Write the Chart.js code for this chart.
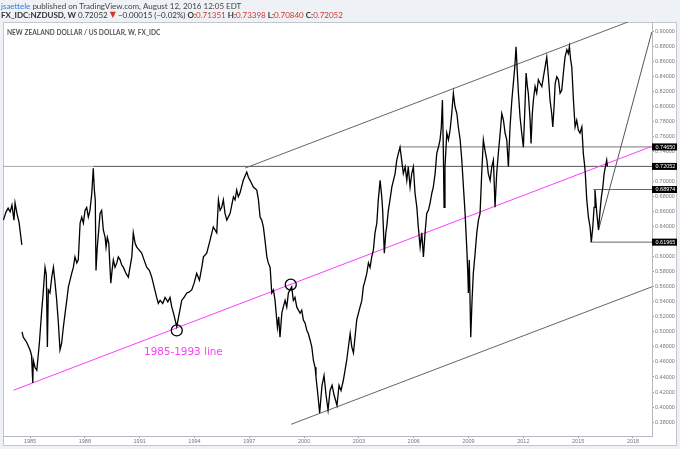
<!DOCTYPE html>
<html>
<head>
<meta charset="utf-8">
<script src="https://cdn.jsdelivr.net/npm/chart.js@4"></script>
<style>
  body { margin: 0; background: #eef1f5; }
  canvas { display: block; }
</style>
</head>
<body>
<canvas id="myChart" width="680" height="449"></canvas>
<script>
// NZDUSD weekly (decimal year, close)
const priceYears = [
  1983.54, 1983.69, 1983.80, 1983.91, 1984.01, 1984.12, 1984.18, 1984.29, 1984.40, 1984.55,
  1984.555,
  1984.56, 1984.63, 1984.82, 1985.00, 1985.08, 1985.15, 1985.18, 1985.27, 1985.37, 1985.51,
  1985.64, 1985.70, 1985.82, 1985.89, 1985.95, 1986.00, 1986.09, 1986.19, 1986.28, 1986.37,
  1986.46, 1986.55, 1986.64, 1986.73, 1986.82, 1986.92, 1987.01, 1987.10, 1987.19, 1987.28,
  1987.37, 1987.46, 1987.56, 1987.64, 1987.74, 1987.83, 1987.92, 1988.01, 1988.10, 1988.19,
  1988.28, 1988.38, 1988.46, 1988.52, 1988.57, 1988.61, 1988.68, 1988.76, 1988.83, 1988.92,
  1989.01, 1989.11, 1989.16, 1989.23, 1989.31, 1989.42, 1989.49, 1989.56, 1989.65, 1989.75,
  1989.83, 1989.93, 1990.02, 1990.11, 1990.25, 1990.38, 1990.47, 1990.57, 1990.65, 1990.75,
  1990.84, 1990.98, 1991.11, 1991.24, 1991.39, 1991.53, 1991.66, 1991.79, 1991.93, 1992.02,
  1992.12, 1992.26, 1992.39, 1992.54, 1992.66, 1992.76, 1992.84, 1993.03, 1993.17, 1993.30,
  1993.43, 1993.58, 1993.70, 1993.85, 1993.98, 1994.12, 1994.27, 1994.40, 1994.49, 1994.67,
  1994.85, 1995.03, 1995.22, 1995.31, 1995.40, 1995.49, 1995.58, 1995.67, 1995.77, 1995.95,
  1996.13, 1996.22, 1996.31, 1996.40, 1996.49, 1996.67, 1996.86, 1996.95, 1997.04, 1997.22,
  1997.41, 1997.50, 1997.59, 1997.68, 1997.77, 1997.86, 1997.96, 1998.04, 1998.14, 1998.23,
  1998.32, 1998.41, 1998.54, 1998.61, 1998.68, 1998.78, 1998.86, 1998.96, 1999.05, 1999.14,
  1999.23, 1999.32, 1999.41, 1999.50, 1999.60, 1999.78, 1999.87, 1999.96, 2000.05, 2000.15,
  2000.23, 2000.33, 2000.42, 2000.51, 2000.60, 2000.65, 2000.73, 2000.85, 2000.98, 2001.09,
  2001.20, 2001.31, 2001.42, 2001.53, 2001.64, 2001.80, 2001.91, 2002.02, 2002.15, 2002.33,
  2002.52, 2002.61, 2002.70, 2002.88, 2003.06, 2003.16, 2003.24, 2003.34, 2003.43, 2003.52,
  2003.61, 2003.70, 2003.79, 2003.88, 2003.98, 2004.06, 2004.16, 2004.25, 2004.30, 2004.39,
  2004.47, 2004.52, 2004.61, 2004.70, 2004.80, 2004.89, 2004.98, 2005.07, 2005.16, 2005.25,
  2005.34, 2005.43, 2005.53, 2005.62, 2005.70, 2005.80, 2005.89, 2005.98, 2006.07, 2006.17,
  2006.25, 2006.35, 2006.44, 2006.53, 2006.62, 2006.71, 2006.80, 2006.89, 2006.99, 2007.07,
  2007.17, 2007.26, 2007.35, 2007.44, 2007.51, 2007.57, 2007.62, 2007.66, 2007.71, 2007.81,
  2007.90, 2007.99, 2008.08, 2008.17, 2008.26, 2008.36, 2008.44, 2008.54, 2008.63, 2008.72,
  2008.81, 2008.90, 2008.96, 2008.99, 2009.04, 2009.12, 2009.19, 2009.26, 2009.36, 2009.45,
  2009.54, 2009.63, 2009.72, 2009.81, 2009.90, 2010.00, 2010.08, 2010.18, 2010.27, 2010.36,
  2010.45, 2010.54, 2010.63, 2010.73, 2010.82, 2010.91, 2011.00, 2011.09, 2011.18, 2011.27,
  2011.37, 2011.45, 2011.53, 2011.60, 2011.67, 2011.73, 2011.82, 2011.91, 2012.00, 2012.08,
  2012.15, 2012.22, 2012.27, 2012.37, 2012.42, 2012.49, 2012.55, 2012.64, 2012.73, 2012.82,
  2012.92, 2013.01, 2013.10, 2013.19, 2013.28, 2013.37, 2013.46, 2013.55, 2013.61, 2013.68,
  2013.74, 2013.83, 2013.92, 2014.01, 2014.10, 2014.19, 2014.28, 2014.38, 2014.46, 2014.52,
  2014.59, 2014.65, 2014.74, 2014.83, 2014.92, 2015.01, 2015.10, 2015.20, 2015.28, 2015.34,
  2015.39, 2015.47, 2015.56, 2015.65, 2015.72, 2015.80, 2015.87, 2015.92, 2016.02, 2016.11,
  2016.20, 2016.27, 2016.35, 2016.42, 2016.49, 2016.56, 2016.60
];
const priceValues = [
  0.649, 0.660, 0.665, 0.660, 0.669, 0.649, 0.672, 0.657, 0.646, 0.616,
  null,
  0.500, 0.493, 0.486, 0.476, 0.469, 0.432, 0.462, 0.453, 0.449, 0.485,
  0.529, 0.546, 0.586, 0.576, 0.480, 0.556, 0.552, 0.573, 0.586, 0.565,
  0.542, 0.512, 0.476, 0.485, 0.506, 0.525, 0.542, 0.560, 0.569, 0.578,
  0.586, 0.600, 0.592, 0.596, 0.645, 0.653, 0.645, 0.662, 0.666, 0.653,
  0.662, 0.685, 0.718, 0.689, 0.676, 0.582, 0.613, 0.636, 0.658, 0.662,
  0.636, 0.626, 0.613, 0.626, 0.618, 0.565, 0.582, 0.596, 0.586, 0.592,
  0.600, 0.596, 0.589, 0.586, 0.578, 0.573, 0.586, 0.600, 0.632, 0.618,
  0.613, 0.609, 0.605, 0.596, 0.586, 0.582, 0.573, 0.560, 0.546, 0.538,
  0.542, 0.538, 0.546, 0.540, 0.546, 0.533, 0.526, 0.507, 0.525, 0.542,
  0.546, 0.552, 0.553, 0.556, 0.565, 0.578, 0.569, 0.586, 0.600, 0.605,
  0.622, 0.640, 0.632, 0.676, 0.662, 0.666, 0.676, 0.658, 0.649, 0.658,
  0.680, 0.676, 0.689, 0.680, 0.685, 0.702, 0.713, 0.706, 0.702, 0.693,
  0.689, 0.676, 0.653, 0.649, 0.640, 0.622, 0.600, 0.592, 0.586, 0.552,
  0.556, 0.542, 0.506, 0.520, 0.493, 0.525, 0.533, 0.542, 0.533, 0.552,
  0.556, 0.560, 0.542, 0.546, 0.533, 0.525, 0.529, 0.516, 0.512, 0.502,
  0.498, 0.489, 0.480, 0.462, 0.453, 0.440, 0.422, 0.392, 0.429, 0.442,
  0.416, 0.396, 0.422, 0.429, 0.416, 0.402, 0.429, 0.422, 0.436, 0.462,
  0.498, 0.480, 0.472, 0.516, 0.533, 0.542, 0.560, 0.569, 0.578, 0.592,
  0.586, 0.600, 0.609, 0.632, 0.645, 0.676, 0.702, 0.680, 0.662, 0.605,
  0.632, 0.640, 0.662, 0.676, 0.693, 0.702, 0.711, 0.729, 0.738, 0.746,
  0.729, 0.711, 0.720, 0.702, 0.720, 0.693, 0.711, 0.720, 0.685, 0.666,
  0.640, 0.613, 0.632, 0.600, 0.632, 0.658, 0.662, 0.671, 0.685, 0.693,
  0.711, 0.738, 0.746, 0.756, 0.773, 0.809, 0.742, 0.666, 0.720, 0.765,
  0.756, 0.769, 0.791, 0.818, 0.800, 0.791, 0.773, 0.756, 0.729, 0.693,
  0.658, 0.613, 0.578, 0.552, 0.596, 0.493, 0.542, 0.578, 0.605, 0.632,
  0.649, 0.658, 0.711, 0.756, 0.742, 0.729, 0.711, 0.702, 0.720, 0.729,
  0.666, 0.711, 0.738, 0.765, 0.791, 0.782, 0.765, 0.756, 0.720, 0.773,
  0.809, 0.831, 0.853, 0.880, 0.845, 0.818, 0.786, 0.765, 0.746, 0.796,
  0.845, 0.827, 0.818, 0.782, 0.751, 0.791, 0.809, 0.827, 0.818, 0.836,
  0.831, 0.827, 0.840, 0.853, 0.866, 0.840, 0.809, 0.791, 0.773, 0.800,
  0.831, 0.840, 0.836, 0.818, 0.822, 0.845, 0.866, 0.876, 0.871, 0.880,
  0.862, 0.853, 0.809, 0.773, 0.782, 0.769, 0.765, 0.773, 0.738, 0.725,
  0.711, 0.676, 0.653, 0.640, 0.620, 0.640, 0.666, 0.689, 0.658, 0.636,
  0.662, 0.680, 0.693, 0.711, 0.720, 0.729, 0.7205
];

// drawn lines (start and end, in year / price)
const upperChannel = [[1996.77, 0.7183], [2017.73, 0.913]];
const lowerChannel = [[1999.29, 0.377], [2019.05, 0.5603]];
const line1985to1993 = [[1984.09, 0.4223], [2018.99, 0.7469]];
const steepLine = [[2016.11, 0.6356], [2019.03, 0.8996]];
const level7465 = [[2005.2, 0.7465], [2019.1, 0.7465]];
const level7205 = [[1988.45, 0.7205], [2019.1, 0.7205]];
const lastPriceLine = [[1983.4, 0.72052], [2019.1, 0.72052]];
const level6897 = [[2015.83, 0.68974], [2019.1, 0.68974]];
const level6197 = [[2015.65, 0.61965], [2019.1, 0.61965]];
const circledPoints = [[1993.03, 0.502], [1999.27, 0.563]];

const xTickYears = [1985, 1988, 1991, 1994, 1997, 2000, 2003, 2006, 2009, 2012, 2015, 2018];
const yTickValues = [0.38, 0.40, 0.42, 0.44, 0.46, 0.48, 0.50, 0.52, 0.54, 0.56, 0.58, 0.60, 0.62,
  0.64, 0.66, 0.68, 0.70, 0.72, 0.74, 0.76, 0.78, 0.80, 0.82, 0.84, 0.86, 0.88, 0.90];
const boxedLevels = [0.74650, 0.72052, 0.68974, 0.61965];

const toPoints = (pairs) => pairs.map((p) => ({ x: p[0], y: p[1] }));

function lineSet(pairs, color, width) {
  return {
    data: toPoints(pairs),
    borderColor: color,
    borderWidth: width,
    pointRadius: 0,
    fill: false,
    tension: 0,
  };
}

const backdrop = {
  id: "backdrop",
  beforeDraw(chart) {
    const { ctx } = chart;
    ctx.save();
    ctx.fillStyle = "#eef1f5";
    ctx.fillRect(0, 0, 680, 449);
    ctx.fillStyle = "#ffffff";
    ctx.fillRect(3, 22, 674, 424);
    ctx.strokeStyle = "#c3c6cb";
    ctx.lineWidth = 1;
    ctx.strokeRect(3.5, 22.5, 673, 423);

    // header lines
    ctx.textBaseline = "middle";
    let x = 1;
    const put = (text, font, color, y) => {
      ctx.font = font;
      ctx.fillStyle = color;
      ctx.fillText(text, x, y);
      x += ctx.measureText(text).width;
    };
    put("jsaettele", "8px Lato", "#2f7bd9", 6);
    put(" published on TradingView.com, August 12, 2016 12:05 EDT", "8px Lato", "#444", 6);
    x = 1;
    const red = "#d8352a";
    put("FX_IDC:NZDUSD, W ", "bold 8px Lato", "#333", 15);
    put("0.72052 ", "8px Lato", "#333", 15);
    put("\u25BC", "8px 'DejaVu Sans'", red, 15);
    put(" \u22120.00015 (\u22120.02%) ", "8px Lato", "#333", 15);
    put("O:", "bold 8px Lato", "#333", 15);
    put("0.71351 ", "8px Lato", red, 15);
    put("H:", "bold 8px Lato", "#333", 15);
    put("0.73398 ", "8px Lato", red, 15);
    put("L:", "bold 8px Lato", "#333", 15);
    put("0.70840 ", "8px Lato", red, 15);
    put("C:", "bold 8px Lato", "#333", 15);
    put("0.72052", "8px Lato", red, 15);
    ctx.restore();
  },
  afterDraw(chart) {
    const { ctx, scales } = chart;
    const xs = scales.x;
    const ys = scales.y;
    ctx.save();
    // title inside the pane
    ctx.font = "bold 6.6px Lato";
    ctx.fillStyle = "#555";
    ctx.textBaseline = "middle";
    ctx.fillText("NEW ZEALAND DOLLAR / US DOLLAR, W, FX_IDC", 7, 32.5);

    // circles
    ctx.strokeStyle = "#000";
    ctx.lineWidth = 1.3;
    circledPoints.forEach((p) => {
      ctx.beginPath();
      ctx.arc(xs.getPixelForValue(p[0]), ys.getPixelForValue(p[1]), 5.5, 0, Math.PI * 2);
      ctx.stroke();
    });

    // annotation text
    ctx.font = "10.4px 'DejaVu Sans'";
    ctx.fillStyle = "#ff3cff";
    ctx.fillText("1985-1993 line", xs.getPixelForValue(1991.24), ys.getPixelForValue(0.473));

    // boxed price levels on the axis
    ctx.font = "5.5px 'Liberation Sans'";
    boxedLevels.forEach((v) => {
      const y = ys.getPixelForValue(v);
      ctx.fillStyle = "#000";
      ctx.fillRect(652, y - 3.5, 25, 7);
      ctx.fillStyle = "#fff";
      ctx.fillText(v.toFixed(5), 655.5, y + 0.3);
    });
    ctx.restore();
  },
};

const ctx = document.getElementById("myChart").getContext("2d");
const myChart = new Chart(ctx, {
  type: "line",
  data: {
    datasets: [
      {
        data: priceYears.map((yr, i) => ({ x: yr, y: priceValues[i] })),
        borderColor: "#000",
        borderWidth: 1.3,
        pointRadius: 0,
        tension: 0,
        spanGaps: false,
      },
      lineSet(line1985to1993, "#ff3cff", 1),
      lineSet(upperChannel, "#666", 1),
      lineSet(lowerChannel, "#666", 1),
      lineSet(steepLine, "#555", 1),
      lineSet(level7465, "#777", 1),
      lineSet(level7205, "#666", 1),
      lineSet(lastPriceLine, "#aaa", 1),
      lineSet(level6897, "#666", 1),
      lineSet(level6197, "#666", 1),
    ],
  },
  options: {
    responsive: false,
    animation: false,
    devicePixelRatio: 1,
    layout: { padding: { top: 22, left: 3, right: 0, bottom: 0 } },
    plugins: { legend: { display: false }, tooltip: { enabled: false } },
    scales: {
      x: {
        type: "linear",
        min: 1983.52,
        max: 2019.04,
        afterBuildTicks: (scale) => {
          scale.ticks = xTickYears.map((v) => ({ value: v }));
        },
        afterFit: (scale) => {
          scale.height = 13;
        },
        grid: { drawOnChartArea: false, tickLength: 2, color: "#999" },
        border: { color: "#b5b8bd" },
        ticks: {
          padding: 0,
          maxRotation: 0,
          autoSkip: false,
          color: "#777",
          font: { family: "Liberation Sans", size: 5.5 },
          callback: (v) => String(v),
        },
      },
      y: {
        position: "right",
        min: 0.3614,
        max: 0.9129,
        afterBuildTicks: (scale) => {
          scale.ticks = yTickValues.map((v) => ({ value: v }));
        },
        afterFit: (scale) => {
          scale.width = 28;
        },
        grid: { drawOnChartArea: false, tickLength: 2, color: "#999" },
        border: { color: "#b5b8bd" },
        ticks: {
          padding: 1,
          autoSkip: false,
          color: "#777",
          font: { family: "Liberation Sans", size: 5.5 },
          callback: (v) => v.toFixed(5),
        },
      },
    },
  },
  plugins: [backdrop],
});
</script>
</body>
</html>
